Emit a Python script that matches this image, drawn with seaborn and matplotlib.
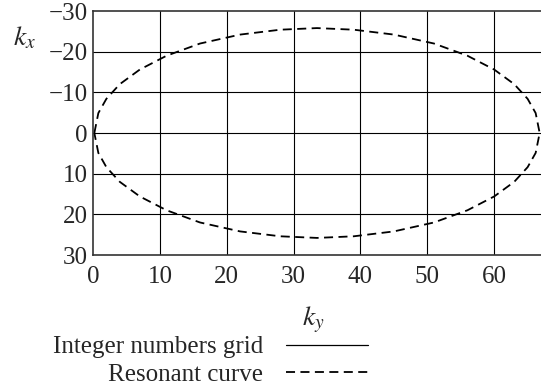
import matplotlib
matplotlib.use("Agg")
import matplotlib.pyplot as plt
import seaborn as sns
import pandas as pd

# Resonant curve points (ky, kx), closed loop
ky_upper = [0.2, 0.8, 2, 4, 7, 11, 16, 22, 28, 33.5, 39, 45, 51, 56, 60, 63, 65, 66.2, 66.8]
kx_upper = [0, -4.9, -8.4, -12.0, -15.6, -19.0, -22.0, -24.2, -25.4, -25.8,
            -25.4, -24.2, -22.0, -19.0, -15.6, -12.0, -8.4, -4.9, 0]
ky_lower = ky_upper[::-1]
kx_lower = [-v for v in kx_upper[::-1]]

x_ticks = [0, 10, 20, 30, 40, 50, 60]
y_ticks = [-30, -20, -10, 0, 10, 20, 30]

curve = pd.DataFrame({
    "ky": ky_upper + ky_lower[1:],
    "kx": kx_upper + kx_lower[1:],
})

sns.set_style("white")
plt.rcParams["font.family"] = ["Liberation Serif", "DejaVu Serif"]
plt.rcParams["mathtext.fontset"] = "stix"
plt.rcParams["axes.unicode_minus"] = True

fig = plt.figure(figsize=(5.41, 3.87), dpi=100)
ax = fig.add_axes([93 / 541, 1 - 255 / 387, 1 - 93 / 541, (255 - 11) / 387])

# integer numbers grid
for xv in x_ticks[1:]:
    ax.axvline(xv, color="black", lw=0.8, zorder=1)
for yv in y_ticks[1:-1]:
    ax.axhline(yv, color="black", lw=0.8, zorder=1)

sns.lineplot(data=curve, x="ky", y="kx", sort=False, estimator=None, ax=ax,
             color="black", lw=1.3, linestyle=(0, (5, 3)), zorder=2)

ax.set_xlim(0, 67)
ax.set_ylim(30, -30)
ax.set_xticks(x_ticks)
ax.set_yticks(y_ticks)
ax.tick_params(length=0, labelsize=18)
ax.tick_params(axis="x", pad=8)
ax.tick_params(axis="y", pad=4)
ax.set_xlabel("")
ax.set_ylabel("")
for side in ["left", "top", "bottom"]:
    ax.spines[side].set_color("#333333")
    ax.spines[side].set_linewidth(1.2)
ax.spines["right"].set_visible(False)

fig.text(25 / 541, 1 - 38 / 387, "$k_x$", fontsize=20, ha="center", va="center")
fig.text(313 / 541, 1 - 320 / 387, "$k_y$", fontsize=20, ha="center", va="center")

grid_handle = plt.Line2D([], [], color="black", lw=0.9)
curve_handle = plt.Line2D([], [], color="black", lw=1.3, linestyle=(0, (5, 3)))
fig.legend([grid_handle, curve_handle], ["Integer numbers grid", "Resonant curve"],
           loc="upper right", bbox_to_anchor=(368 / 541, 1 - 336 / 387),
           bbox_transform=fig.transFigure, frameon=False, markerfirst=False,
           fontsize=18, handlelength=3.3, handletextpad=0.9, labelspacing=0.2,
           borderpad=0, borderaxespad=0)

fig.savefig("out.png", dpi=100)
